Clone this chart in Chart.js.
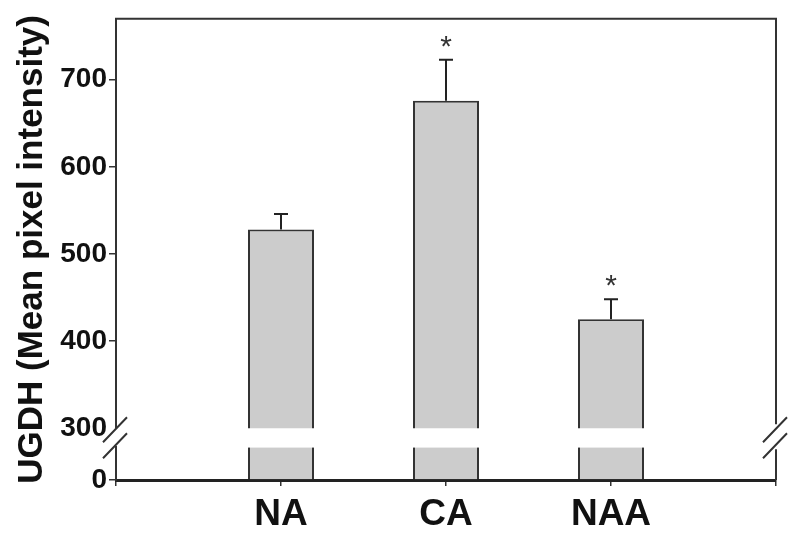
<!DOCTYPE html>
<html>
<head>
<meta charset="utf-8">
<script src="https://cdn.jsdelivr.net/npm/chart.js@4"></script>
<style>
html,body{margin:0;padding:0;background:#ffffff;}
#wrap{width:800px;height:537px;position:relative;}
</style>
</head>
<body>
<div id="wrap"><canvas id="c"></canvas></div>
<script>
// ---- data ----
const categories = ['NA', 'CA', 'NAA'];
const means = [528, 676, 425];
const errorTops = [546, 723, 448];
const significant = [false, true, true];
const upperTicks = [300, 400, 500, 600, 700];
const lowerTicks = [0];
const upperRange = [300, 770];
const lowerRange = [0, 38];
const lowerSegment = [38, 38, 38];
const yTitle = 'UGDH (Mean pixel intensity)';

const FONT = "'Liberation Sans', Arial, Helvetica, sans-serif";
const INK = '#111111';
const LINE = '#333333';
const FILL = '#cccccc';

const xLabels = ['', ...categories, ''];
const pad = arr => [null, ...arr, null];

const decor = {
  id: 'decor',
  afterDatasetsDraw(chart) {
    const {ctx, scales} = chart;
    const x = scales.x, yT = scales.yTop;
    ctx.save();
    ctx.strokeStyle = '#222222';
    ctx.lineWidth = 2;
    means.forEach((m, i) => {
      const px = x.getPixelForValue(i + 1);
      const y0 = yT.getPixelForValue(m);
      const y1 = yT.getPixelForValue(errorTops[i]);
      ctx.beginPath();
      ctx.moveTo(px, y0);
      ctx.lineTo(px, y1);
      ctx.moveTo(px - 7, y1);
      ctx.lineTo(px + 7, y1);
      ctx.stroke();
      if (significant[i]) {
        ctx.fillStyle = '#333333';
        ctx.font = '30px ' + FONT;
        ctx.textAlign = 'center';
        ctx.textBaseline = 'alphabetic';
        ctx.fillText('*', px, y1 - 4);
      }
    });
    ctx.restore();
  },
  afterDraw(chart) {
    const {ctx, chartArea: a, scales} = chart;
    const yT = scales.yTop, yB = scales.yBot;
    ctx.save();
    // top and right frame
    ctx.strokeStyle = LINE;
    ctx.lineWidth = 2;
    ctx.beginPath();
    ctx.moveTo(a.left - 1, a.top);
    ctx.lineTo(a.right, a.top);
    ctx.lineTo(a.right, yT.bottom - 4);
    ctx.moveTo(a.right, yB.top + 2);
    ctx.lineTo(a.right, a.bottom);
    ctx.stroke();
    // break slashes
    const gTop = yT.bottom;
    [a.left, a.right].forEach(ax => {
      ctx.beginPath();
      ctx.moveTo(ax - 13, gTop + 14);
      ctx.lineTo(ax + 11, gTop - 11);
      ctx.moveTo(ax - 13, gTop + 30);
      ctx.lineTo(ax + 11, gTop + 5);
      ctx.stroke();
    });
    // y title
    ctx.translate(42, (a.top + a.bottom) / 2);
    ctx.rotate(-Math.PI / 2);
    ctx.fillStyle = INK;
    ctx.font = 'bold 35px ' + FONT;
    ctx.textAlign = 'center';
    ctx.textBaseline = 'alphabetic';
    ctx.fillText(yTitle, 0, 0);
    ctx.restore();
  }
};

const yTickFont = {family: FONT, size: 28, weight: 'bold'};

new Chart(document.getElementById('c'), {
  type: 'bar',
  data: {
    labels: xLabels,
    datasets: [
      {
        data: pad(means),
        yAxisID: 'yTop',
        backgroundColor: FILL,
        borderColor: LINE,
        borderWidth: 2,
        borderSkipped: 'start',
        grouped: false,
        barPercentage: 1,
        categoryPercentage: 0.4
      },
      {
        data: pad(lowerSegment),
        yAxisID: 'yBot',
        backgroundColor: FILL,
        borderColor: LINE,
        borderWidth: {left: 2, right: 2, top: 0, bottom: 0},
        borderSkipped: 'start',
        grouped: false,
        barPercentage: 1,
        categoryPercentage: 0.4
      }
    ]
  },
  options: {
    responsive: true,
    maintainAspectRatio: false,
    animation: false,
    events: [],
    layout: {padding: {left: 50, right: 24, top: 17, bottom: 0}},
    plugins: {legend: {display: false}, tooltip: {enabled: false}, title: {display: false}},
    scales: {
      x: {
        type: 'category',
        offset: false,
        grid: {offset: false, drawOnChartArea: false, drawTicks: true, tickLength: 6, color: LINE, lineWidth: 1.5},
        border: {display: true, color: '#222222', width: 3},
        ticks: {font: {family: FONT, size: 37, weight: 'bold'}, color: INK, padding: 7, maxRotation: 0, autoSkip: false},
        afterFit: s => { s.height = 57; }
      },
      yTop: {
        axis: 'y',
        type: 'linear',
        position: 'left',
        stack: 'left',
        stackWeight: 411,
        weight: 3,
        min: upperRange[0],
        max: upperRange[1],
        afterBuildTicks: s => { s.ticks = upperTicks.map(v => ({value: v})); },
        grid: {drawOnChartArea: false, drawTicks: true, tickLength: 7,
               color: c => (c.tick && c.tick.value === upperRange[0]) ? 'rgba(0,0,0,0)' : LINE, lineWidth: 1.5},
        border: {display: true, color: LINE, width: 2},
        ticks: {font: yTickFont, color: INK, padding: 2},
        afterFit: s => { s.width = 66; }
      },
      yGap: {
        axis: 'y',
        type: 'linear',
        position: 'left',
        stack: 'left',
        stackWeight: 19,
        weight: 2,
        min: 0,
        max: 1,
        afterBuildTicks: s => { s.ticks = []; },
        grid: {display: false},
        border: {display: false},
        ticks: {display: false},
        afterFit: s => { s.width = 66; }
      },
      yBot: {
        axis: 'y',
        type: 'linear',
        position: 'left',
        stack: 'left',
        stackWeight: 33,
        weight: 1,
        min: lowerRange[0],
        max: lowerRange[1],
        afterBuildTicks: s => { s.ticks = lowerTicks.map(v => ({value: v})); },
        grid: {drawOnChartArea: false, drawTicks: true, tickLength: 7, color: LINE, lineWidth: 1.5},
        border: {display: true, color: LINE, width: 2},
        ticks: {font: yTickFont, color: INK, padding: 2},
        afterFit: s => { s.width = 66; }
      }
    }
  },
  plugins: [decor]
});
</script>
</body>
</html>
